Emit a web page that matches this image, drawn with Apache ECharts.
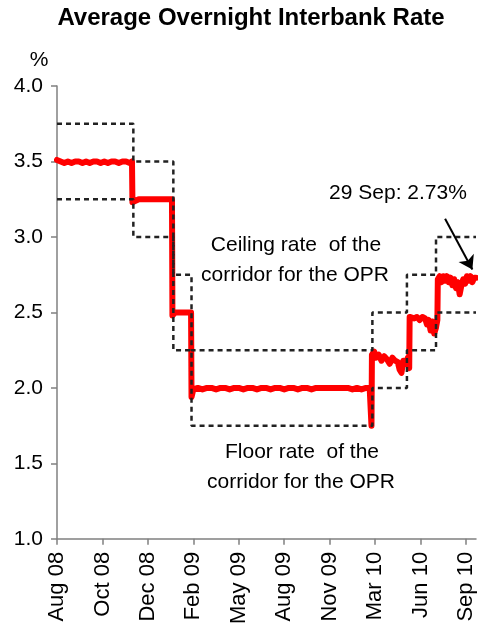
<!DOCTYPE html>
<html>
<head>
<meta charset="utf-8">
<script src="https://cdn.jsdelivr.net/npm/echarts@6/dist/echarts.min.js"></script>
<style>
html,body{margin:0;padding:0;background:#fff;}
#chart{width:478px;height:627px;}
</style>
</head>
<body>
<div id="chart"></div>
<script>
// x positions are trading-day indices along the category-like time axis
const tickLabels = ['Aug 08','Oct 08','Dec 08','Feb 09','May 09','Aug 09','Nov 09','Mar 10','Jun 10','Sep 10'];
const tickStep = 50;
const axisEnd = 461;

// Corridor for the OPR (step changes)
const corridorIdx = [0, 84, 128, 148, 347, 385, 417, 461];
const ceilingRate = [3.75, 3.50, 2.75, 2.25, 2.50, 2.75, 3.00, 3.00];
const floorRate   = [3.25, 3.00, 2.25, 1.75, 2.00, 2.25, 2.50, 2.50];

// Average overnight interbank rate
const rateIdx = [0,4,8,12,16,20,24,28,32,36,40,44,48,52,56,60,64,68,72,76,80,82.5,
  83,85,90,95,100,105,110,115,120,126.5,
  127,130,135,140,147.5,
  148,150,155,160,165,170,175,180,185,190,195,200,205,210,215,220,225,230,235,240,245,250,255,260,265,270,275,280,285,290,295,300,305,310,315,320,325,330,335,340,344,345.5,
  346,346.5,349,351,354,357,360,363,366,369,372,375,377,379,381,384,386,387.5,
  388,390,393,396,399,402,405,407,409,411,413,415,417,418.5,
  419,421,423,425,427,429,431,433,435,437,439,441,443,445,447,449,451,453,455,457,459,461];
const rateVal = [3.51,3.50,3.49,3.50,3.49,3.50,3.50,3.49,3.50,3.49,3.50,3.50,3.49,3.50,3.49,3.50,3.50,3.49,3.50,3.50,3.49,3.50,
  3.23,3.24,3.25,3.25,3.25,3.25,3.25,3.25,3.25,3.25,
  2.48,2.50,2.50,2.50,2.50,
  1.94,1.99,2.00,1.99,2.00,2.00,1.99,2.00,2.00,1.99,2.00,2.00,1.99,2.00,2.00,1.99,2.00,2.00,1.99,2.00,2.00,1.99,2.00,2.00,1.99,2.00,2.00,1.99,2.00,2.00,2.00,2.00,2.00,2.00,2.00,2.00,1.99,2.00,1.99,2.00,2.00,2.00,
  1.75,2.22,2.24,2.20,2.22,2.18,2.21,2.19,2.16,2.20,2.18,2.17,2.12,2.10,2.18,2.16,2.20,2.13,
  2.47,2.48,2.46,2.47,2.45,2.47,2.46,2.42,2.45,2.38,2.44,2.36,2.40,2.45,
  2.72,2.74,2.70,2.74,2.71,2.74,2.70,2.73,2.68,2.72,2.66,2.70,2.62,2.68,2.72,2.69,2.74,2.71,2.74,2.70,2.73,2.73];

const FONT = '"Liberation Sans", Arial, sans-serif';
const tickValues = tickLabels.map((_, i) => i * tickStep);

const chart = echarts.init(document.getElementById('chart'), null, {renderer: 'canvas'});
const pair = (xs, ys) => xs.map((x, i) => [x, ys[i]]);

chart.setOption({
  animation: false,
  backgroundColor: '#fff',
  grid: {left: 57, right: 2, top: 86, bottom: 88, containLabel: false},
  xAxis: {
    type: 'value', min: 0, max: axisEnd, interval: tickStep,
    axisLine: {show: true, lineStyle: {color: '#808080', width: 1.5}},
    axisTick: {show: true, length: 6, inside: false, customValues: tickValues, lineStyle: {color: '#808080', width: 1.5}},
    axisLabel: {
      rotate: 90, margin: 13, color: '#000', fontSize: 22, fontFamily: FONT,
      customValues: tickValues, showMaxLabel: true, showMinLabel: true, hideOverlap: false,
      formatter: v => (v % tickStep === 0 && tickLabels[v / tickStep]) ? tickLabels[v / tickStep] : ''
    },
    splitLine: {show: false}
  },
  yAxis: {
    type: 'value', min: 1, max: 4, interval: 0.5,
    axisLine: {show: true, lineStyle: {color: '#808080', width: 1.5}},
    axisTick: {show: true, length: 6, lineStyle: {color: '#808080', width: 1.5}},
    axisLabel: {margin: 14, color: '#000', fontSize: 21, fontFamily: FONT, formatter: v => v.toFixed(1)},
    splitLine: {show: false}
  },
  series: [
    {
      name: 'Rate', type: 'line', data: pair(rateIdx, rateVal), showSymbol: false, symbol: 'none',
      lineStyle: {color: '#ff0000', width: 6, join: 'round', cap: 'round'}, z: 2,
      markLine: {
        silent: true, symbol: ['none', 'arrow'], symbolSize: 13,
        lineStyle: {color: '#000', width: 2, type: 'solid'},
        label: {show: false},
        data: [[{coord: [427, 3.12]}, {coord: [457, 2.785]}]]
      }
    },
    {
      name: 'Ceiling', type: 'line', step: 'end', data: pair(corridorIdx, ceilingRate), showSymbol: false, symbol: 'none',
      lineStyle: {color: '#222', width: 2.5, type: [5, 4]}, z: 3
    },
    {
      name: 'Floor', type: 'line', step: 'end', data: pair(corridorIdx, floorRate), showSymbol: false, symbol: 'none',
      lineStyle: {color: '#222', width: 2.5, type: [5, 4]}, z: 3
    }
  ],
  graphic: [
    {type: 'text', x: 251, y: 18, style: {text: 'Average Overnight Interbank Rate', fill: '#000', fontSize: 24, fontWeight: 'bold', fontFamily: FONT, align: 'center', verticalAlign: 'middle'}},
    {type: 'text', x: 39, y: 60, style: {text: '%', fill: '#000', fontSize: 21, fontFamily: FONT, align: 'center', verticalAlign: 'middle'}},
    {type: 'text', x: 296, y: 245, style: {text: 'Ceiling rate  of the', fill: '#000', fontSize: 21, fontFamily: FONT, align: 'center', verticalAlign: 'middle'}},
    {type: 'text', x: 295, y: 275, style: {text: 'corridor for the OPR', fill: '#000', fontSize: 21, fontFamily: FONT, align: 'center', verticalAlign: 'middle'}},
    {type: 'text', x: 302, y: 452, style: {text: 'Floor rate  of the', fill: '#000', fontSize: 21, fontFamily: FONT, align: 'center', verticalAlign: 'middle'}},
    {type: 'text', x: 301, y: 482, style: {text: 'corridor for the OPR', fill: '#000', fontSize: 21, fontFamily: FONT, align: 'center', verticalAlign: 'middle'}},
    {type: 'text', x: 398, y: 193, style: {text: '29 Sep: 2.73%', fill: '#000', fontSize: 21, fontFamily: FONT, align: 'center', verticalAlign: 'middle'}}
  ]
});
</script>
</body>
</html>
